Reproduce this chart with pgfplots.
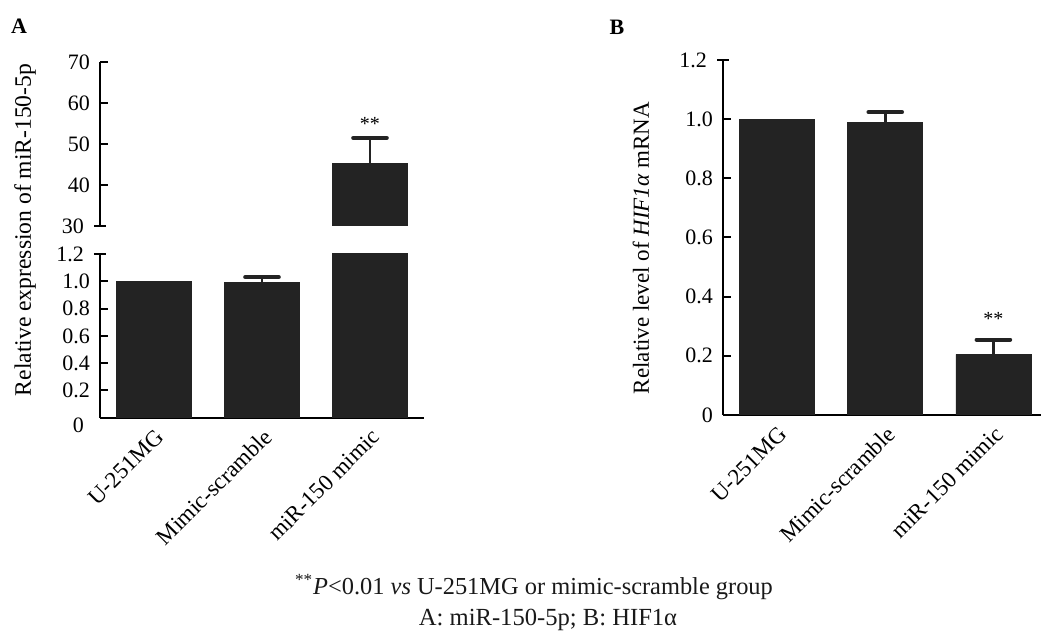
\documentclass[border=0pt]{standalone}
\usepackage{fontspec}
\setmainfont{Liberation Serif}
\usepackage{pgfplots}
\pgfplotsset{compat=1.18}
\definecolor{barc}{RGB}{35,35,35}
\begin{document}
\begin{tikzpicture}
\useasboundingbox (0pt,0pt) rectangle (520.5pt,318.5pt);
\pgfplotsset{
 mybase/.style={
   scale only axis, anchor=south west,
   xmin=-0.5, xmax=2.5,
   axis line style={line width=1.1pt, -, black},
   tick style={line width=1pt, black},
   tick align=inside,
   major tick length=3.8pt,
   ytick pos=left,
   /pgf/number format/assume math mode=true,
   yticklabel style={font=\fontsize{11}{13}\selectfont, xshift=-1.5pt},
   xtick style={draw=none},
   xticklabel style={rotate=45, anchor=north east, font=\fontsize{11.5}{13}\selectfont},
 },
 mybar/.style={ybar, fill=barc, draw=barc, bar width=#1, bar shift=0pt},
 myerr/.style={error bars/.cd, y dir=plus, y explicit,
   error bar style={line width=1.4pt, barc},
   error mark options={rotate=90, line width=2pt, mark size=#1, line cap=round, barc}},
}
% ---------- Panel A lower ----------
\begin{axis}[mybase, name=Alow, at={(50pt,109.65pt)}, width=162pt, height=81.85pt,
  ymin=0, ymax=1.2,
  ytick={0.2,0.4,0.6,0.8,1.0}, yticklabels={0.2,0.4,0.6,0.8,1.0},
  extra y ticks={1.2}, extra y tick labels={1.2},
  extra y tick style={tick align=center, major tick length=6pt},
  xtick={0,1,2}, xticklabels={U-251MG,Mimic-scramble,miR-150 mimic},
  axis x line*=bottom, axis y line*=left]
\addplot[mybar=37.5pt] coordinates {(0,1.0)};
\addplot[mybar=37.5pt, myerr=8.4pt] coordinates {(1,0.99) +- (0,0.04)};
\addplot[mybar=37.5pt] coordinates {(2,45.3)};
\end{axis}
\node[anchor=east, font=\fontsize{11}{13}\selectfont, xshift=-4.5pt, yshift=-4pt] at (Alow.south west) {0};
% ---------- Panel A upper ----------
\begin{axis}[mybase, at={(50pt,205.5pt)}, width=162pt, height=82pt,
  ymin=30, ymax=70,
  ytick={40,50,60,70},
  extra y ticks={30}, extra y tick labels={30},
  extra y tick style={tick align=center, major tick length=6pt},
  xtick=\empty,
  axis x line=none, axis y line*=left]
\addplot[mybar=37.5pt, myerr=8.4pt] coordinates {(2,45.3) +- (0,6.2)};
\node[font=\fontsize{10}{12}\selectfont] at (axis cs:2,55.0) {**};
\end{axis}
% ---------- Panel B ----------
\begin{axis}[mybase, at={(361.5pt,111pt)}, width=159pt, height=177.5pt,
  xmin=-0.5, xmax=2.44,
  ymin=0, ymax=1.2,
  ytick={0,0.2,0.4,0.6,0.8,1.0}, yticklabels={0,0.2,0.4,0.6,0.8,1.0},
  extra y ticks={1.2}, extra y tick labels={1.2},
  extra y tick style={tick align=center, major tick length=6pt},
  xtick={0,1,2}, xticklabels={U-251MG,Mimic-scramble,miR-150 mimic},
  axis x line*=bottom, axis y line*=left]
\addplot[mybar=37.5pt] coordinates {(0,1.0)};
\addplot[mybar=37.5pt, myerr=8.4pt] coordinates {(1,0.99) +- (0,0.034) (2,0.205) +- (0,0.05)};
\node[font=\fontsize{10}{12}\selectfont] at (axis cs:2,0.325) {**};
\end{axis}
% ---------- labels ----------
\node[rotate=90, font=\fontsize{11.8}{14}\selectfont] at (12.5pt,203.5pt) {Relative expression of miR-150-5p};
\node[rotate=90, font=\fontsize{11.5}{14}\selectfont] at (320.5pt,194.5pt) {Relative level of \textit{HIF1α} mRNA};
\node[font=\fontsize{11}{13}\selectfont\bfseries] at (9.5pt,305.5pt) {A};
\node[font=\fontsize{11}{13}\selectfont\bfseries] at (308.5pt,305pt) {B};
\node[font=\fontsize{12.2}{14}\selectfont, text=black!90] at (267pt,25pt) {\textsuperscript{**}\textit{P}<0.01 \textit{vs} U-251MG or mimic-scramble group};
\node[font=\fontsize{12.3}{14}\selectfont, text=black!90] at (274pt,8.5pt) {A: miR-150-5p; B: HIF1α};
\end{tikzpicture}
\end{document}
